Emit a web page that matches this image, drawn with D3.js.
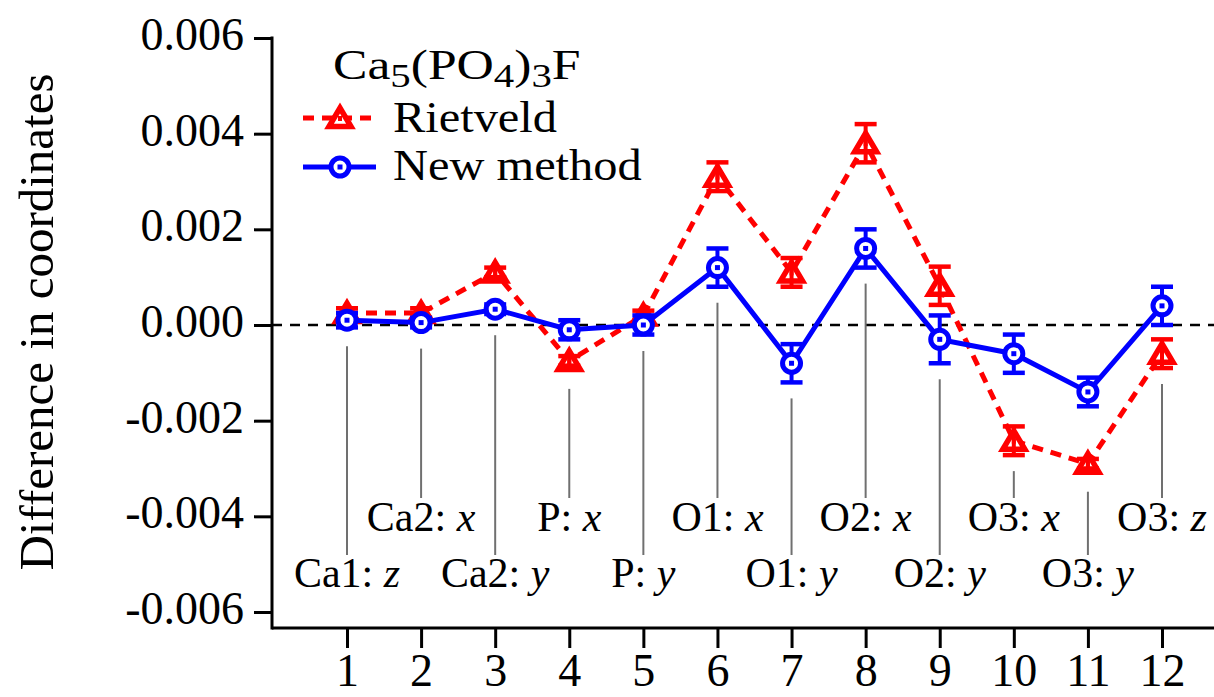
<!DOCTYPE html>
<html>
<head>
<meta charset="utf-8">
<script src="https://cdn.jsdelivr.net/npm/d3@7"></script>
<style>
  body { margin: 0; background: #fff; }
  svg { font-family: "Liberation Serif", "Times New Roman", serif; }
</style>
</head>
<body>
<div id="chart"></div>
<script>
// data
const positions = [1, 2, 3, 4, 5, 6, 7, 8, 9, 10, 11, 12];
const atomNames = ["Ca1", "Ca2", "Ca2", "P", "P", "O1", "O1", "O2", "O2", "O3", "O3", "O3"];
const coordNames = ["z", "x", "y", "x", "y", "x", "y", "x", "y", "x", "y", "z"];
const rietveld = [0.00025, 0.00025, 0.0011, -0.00075, 0.0002, 0.0031, 0.0011, 0.0038, 0.00082, -0.00242, -0.0029, -0.0006];
const rietveldErr = [0.0001, 0.0001, 0.0001, 0.0001, 0.0001, 0.0003, 0.0003, 0.0004, 0.0004, 0.0003, 0.0001, 0.0003];
const newMethod = [0.0001, 0.00005, 0.00033, -0.0001, 0.0, 0.0012, -0.0008, 0.0016, -0.0003, -0.0006, -0.0014, 0.0004];
const newMethodErr = [0.00015, 0.0001, 0.0001, 0.0002, 0.0002, 0.0004, 0.0004, 0.0004, 0.0005, 0.0004, 0.0003, 0.0004];
const yTicks = [-0.006, -0.004, -0.002, 0, 0.002, 0.004, 0.006];

let width = 1214;
let height = 697;
let axisLeftX = 272;
let axisBottomY = 628;

let svg = d3.select('#chart').append('svg')
  .attr('width', width)
  .attr('height', height);

// scales
let x = d3.scaleLinear()
  .domain([1, 12])
  .range([347, 1162]);

let y = d3.scaleLinear()
  .domain([-0.006, 0.006])
  .range([612, 38]);

const fmt = v => d3.format(".3f")(v).replace("\u2212", "-");

// y axis
let yAxis = svg.append('g')
  .attr('transform', `translate(${axisLeftX},0)`)
  .call(d3.axisLeft(y).tickValues(yTicks).tickFormat(fmt).tickSize(18).tickPadding(10));
yAxis.select('.domain').remove();
yAxis.selectAll('.tick line').attr('stroke', '#000').attr('stroke-width', 3);
yAxis.selectAll('.tick text')
  .attr('font-size', 46)
  .attr('font-family', '"Liberation Serif", serif')
  .attr('fill', '#000')
  .attr('dy', '0.25em');

// x axis
let xAxis = svg.append('g')
  .attr('transform', `translate(0,${axisBottomY})`)
  .call(d3.axisBottom(x).tickValues(positions).tickFormat(d3.format("d")).tickSize(20).tickPadding(8));
xAxis.select('.domain').remove();
xAxis.selectAll('.tick line').attr('stroke', '#000').attr('stroke-width', 3);
xAxis.selectAll('.tick text')
  .attr('font-size', 46)
  .attr('font-family', '"Liberation Serif", serif')
  .attr('fill', '#000')
  .attr('dy', '0.65em');

// axis lines
svg.append('line')
  .attr('x1', axisLeftX).attr('x2', axisLeftX)
  .attr('y1', y(0.006) - 1.5).attr('y2', axisBottomY + 1.5)
  .attr('stroke', '#000').attr('stroke-width', 3);
svg.append('line')
  .attr('x1', axisLeftX).attr('x2', width)
  .attr('y1', axisBottomY).attr('y2', axisBottomY)
  .attr('stroke', '#000').attr('stroke-width', 3);

// y axis title
svg.append('text')
  .attr('transform', `translate(53, 322) rotate(-90)`)
  .attr('text-anchor', 'middle')
  .attr('font-size', 49)
  .text('Difference in coordinates');

// zero line
svg.append('line')
  .attr('x1', axisLeftX).attr('x2', width)
  .attr('y1', y(0)).attr('y2', y(0))
  .attr('stroke', '#000').attr('stroke-width', 2.5)
  .attr('stroke-dasharray', '10,8');

// leader lines and labels
const topRowY = 531;
const bottomRowY = 587;
positions.forEach((p, i) => {
  const lowest = Math.min(rietveld[i] - rietveldErr[i], newMethod[i] - newMethodErr[i]);
  const lowMarker = Math.max(y(rietveld[i]) + 12, y(newMethod[i]) + 10);
  const start = Math.max(y(lowest), lowMarker) + 16;
  const isTop = i % 2 === 1;
  const end = isTop ? topRowY - 33 : bottomRowY - 32;
  svg.append('line')
    .attr('x1', x(p)).attr('x2', x(p))
    .attr('y1', start).attr('y2', end)
    .attr('stroke', '#707070').attr('stroke-width', 2);

  const t = svg.append('text')
    .attr('x', x(p))
    .attr('y', isTop ? topRowY : bottomRowY)
    .attr('text-anchor', 'middle')
    .attr('font-size', 42);
  t.append('tspan').text(atomNames[i] + ': ');
  t.append('tspan').attr('font-style', 'italic').text(coordNames[i]);
});

// series drawing helpers
function triangle(g, cx, cy, s) {
  g.append('path')
    .attr('d', `M${cx},${cy - s} L${cx + s * 1.1},${cy + s * 0.85} L${cx - s * 1.1},${cy + s * 0.85} Z`)
    .attr('fill', '#fff').attr('stroke', '#ff0000').attr('stroke-width', 5.5)
    .attr('stroke-linejoin', 'miter');
  g.append('rect')
    .attr('x', cx - 2).attr('y', cy - 2).attr('width', 4).attr('height', 5)
    .attr('fill', '#ff0000');
}
function circle(g, cx, cy, r) {
  g.append('circle')
    .attr('cx', cx).attr('cy', cy).attr('r', r)
    .attr('fill', '#fff').attr('stroke', '#0000ff').attr('stroke-width', 5);
  g.append('rect')
    .attr('x', cx - 2.5).attr('y', cy - 2.5).attr('width', 5).attr('height', 5)
    .attr('fill', '#0000ff');
}
function errorBars(g, vals, errs, color) {
  vals.forEach((v, i) => {
    const cx = x(positions[i]);
    const y1 = y(v + errs[i]);
    const y2 = y(v - errs[i]);
    g.append('line').attr('x1', cx).attr('x2', cx).attr('y1', y1).attr('y2', y2)
      .attr('stroke', color).attr('stroke-width', 4);
    [y1, y2].forEach(yy => {
      g.append('line').attr('x1', cx - 11).attr('x2', cx + 11).attr('y1', yy).attr('y2', yy)
        .attr('stroke', color).attr('stroke-width', 4.5);
    });
  });
}

const line = d3.line().x((d, i) => x(positions[i])).y(d => y(d));

// Rietveld
let gR = svg.append('g');
gR.append('path')
  .attr('d', line(rietveld))
  .attr('fill', 'none').attr('stroke', '#ff0000').attr('stroke-width', 5)
  .attr('stroke-dasharray', '11,8');
rietveld.forEach((v, i) => triangle(gR, x(positions[i]), y(v), 10));
errorBars(gR, rietveld, rietveldErr, '#ff0000');

// New method
let gB = svg.append('g');
gB.append('path')
  .attr('d', line(newMethod))
  .attr('fill', 'none').attr('stroke', '#0000ff').attr('stroke-width', 5);
errorBars(gB, newMethod, newMethodErr, '#0000ff');
newMethod.forEach((v, i) => circle(gB, x(positions[i]), y(v), 9));

// legend
let legend = svg.append('g');
let title = legend.append('text')
  .attr('transform', 'translate(333,79) scale(1.2,1)')
  .attr('font-size', 43);
title.append('tspan').text('Ca');
title.append('tspan').attr('font-size', 34).attr('dy', 8).text('5');
title.append('tspan').attr('dy', -8).text('(PO');
title.append('tspan').attr('font-size', 34).attr('dy', 8).text('4');
title.append('tspan').attr('dy', -8).text(')');
title.append('tspan').attr('font-size', 34).attr('dy', 8).text('3');
title.append('tspan').attr('dy', -8).text('F');

legend.append('line')
  .attr('x1', 303).attr('x2', 376).attr('y1', 118).attr('y2', 118)
  .attr('stroke', '#ff0000').attr('stroke-width', 5).attr('stroke-dasharray', '11,8');
triangle(legend, 340, 118, 10);
legend.append('text').attr('transform', 'translate(393,132) scale(1.1,1)')
  .attr('font-size', 44).text('Rietveld');

legend.append('line')
  .attr('x1', 303).attr('x2', 376).attr('y1', 167).attr('y2', 167)
  .attr('stroke', '#0000ff').attr('stroke-width', 5);
circle(legend, 340, 167, 9);
legend.append('text').attr('transform', 'translate(393,180) scale(1.1,1)')
  .attr('font-size', 44).text('New method');
</script>
</body>
</html>
